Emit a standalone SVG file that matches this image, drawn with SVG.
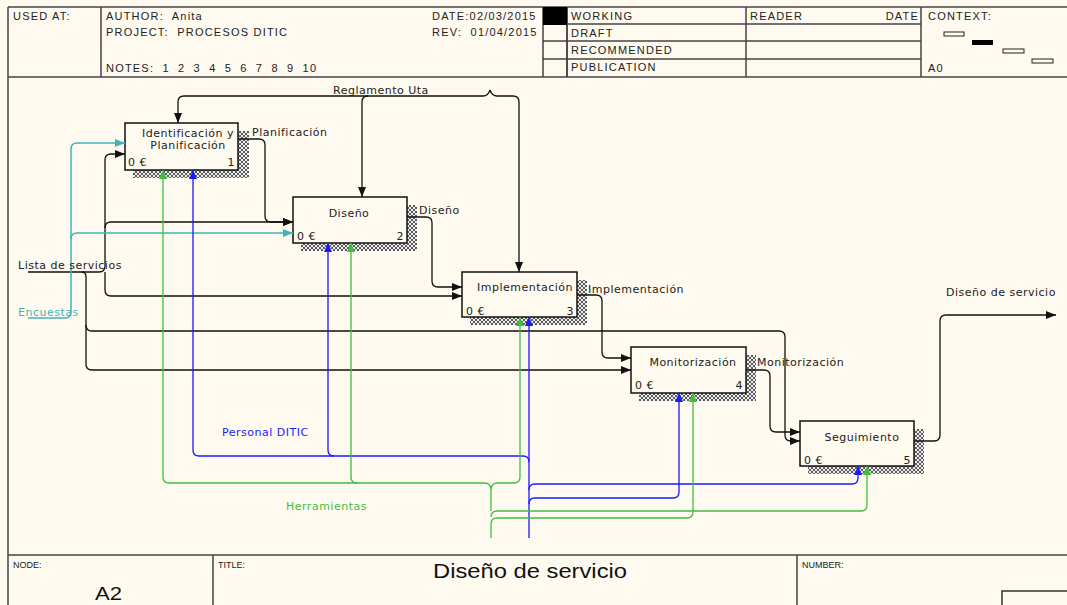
<svg xmlns="http://www.w3.org/2000/svg" width="1067" height="605" viewBox="0 0 1067 605">
<style>
.hd{font-family:"Liberation Sans",Arial,sans-serif;font-size:11px;letter-spacing:1.2px;fill:#222}
.ft{font-family:"Liberation Sans",Arial,sans-serif;font-size:9px;fill:#222}
.bx{font-family:"DejaVu Sans",sans-serif;font-size:11px;letter-spacing:0.5px;fill:#222}
.lb{font-family:"DejaVu Sans",sans-serif;font-size:11px;letter-spacing:0.5px;fill:#222}
.fr{stroke:#444;stroke-width:1.5;fill:none}
.box{fill:#fffaef;stroke:#111;stroke-width:1.5}
.sh{fill:url(#hatch)}
.k{fill:none;stroke:#111;stroke-width:1.3}
.c{fill:none;stroke:#3fb4b6;stroke-width:1.5}
.b{fill:none;stroke:#1a1aff;stroke-width:1.3}
.g{fill:none;stroke:#3fbf3f;stroke-width:1.3}
</style>
<defs>
<pattern id="hatch" width="4" height="4" patternUnits="userSpaceOnUse">
<rect width="4" height="4" fill="#eeeeee"/>
<path d="M0,0L4,4M4,0L0,4" stroke="#4a4a4a" stroke-width="0.9"/>
</pattern>
<marker id="ak" viewBox="0 0 10 8" markerWidth="10" markerHeight="8" refX="10" refY="4" orient="auto" markerUnits="userSpaceOnUse"><path d="M0,0L10,4L0,8z" fill="#111"/></marker>
<marker id="ac" viewBox="0 0 10 8" markerWidth="10" markerHeight="8" refX="10" refY="4" orient="auto" markerUnits="userSpaceOnUse"><path d="M0,0L10,4L0,8z" fill="#3fb4b6"/></marker>
<marker id="ab" viewBox="0 0 9 8" markerWidth="9" markerHeight="8" refX="9" refY="4" orient="auto" markerUnits="userSpaceOnUse"><path d="M0,0L9,4L0,8z" fill="#1a1aff"/></marker>
<marker id="ag" viewBox="0 0 9 8" markerWidth="9" markerHeight="8" refX="9" refY="4" orient="auto" markerUnits="userSpaceOnUse"><path d="M0,0L9,4L0,8z" fill="#3fbf3f"/></marker>
</defs>
<rect width="1067" height="605" fill="#fffaef"/>

<g id="frame">
<path class="fr" d="M8,7V605M8,7H1067M8,77H1067M101,7V77M543,7V77M567,7V77M746,7V77M921,7V77M543,24H921M543,41H921M543,59H921"/>
<text class="hd" x="13" y="20">USED AT:</text>
<text class="hd" x="106" y="20" xml:space="preserve">AUTHOR:  Anita</text>
<text class="hd" x="106" y="36" xml:space="preserve">PROJECT:  PROCESOS DITIC</text>
<text class="hd" x="106" y="72" word-spacing="4">NOTES: 1 2 3 4 5 6 7 8 9 10</text>
<text class="hd" x="432" y="20">DATE:02/03/2015</text>
<text class="hd" x="432" y="36" xml:space="preserve">REV:  01/04/2015</text>
<rect x="544" y="25" width="22" height="51" fill="#fffaef"/>
<path class="fr" d="M543,41H567M543,59H567M567,7V77"/>
<rect x="543" y="7" width="24" height="18" fill="#000"/>
<text class="hd" x="571" y="20">WORKING</text>
<text class="hd" x="571" y="37">DRAFT</text>
<text class="hd" x="571" y="54">RECOMMENDED</text>
<text class="hd" x="571" y="71">PUBLICATION</text>
<text class="hd" x="750" y="20">READER</text>
<text class="hd" x="919" y="20" text-anchor="end">DATE</text>
<text class="hd" x="928" y="20">CONTEXT:</text>
<text class="hd" x="928" y="72">A0</text>
<rect x="944" y="32" width="20" height="4" fill="none" stroke="#222" stroke-width="1"/>
<rect x="972" y="40" width="21" height="5" fill="#000"/>
<rect x="1003" y="49" width="21" height="4" fill="none" stroke="#222" stroke-width="1"/>
<rect x="1032" y="59" width="21" height="4" fill="none" stroke="#222" stroke-width="1"/>
<path class="fr" d="M8,555H1067M213,555V605M797,555V605"/>
<text class="ft" x="13" y="568">NODE:</text>
<text class="ft" x="218" y="568">TITLE:</text>
<text class="ft" x="802" y="568">NUMBER:</text>
<text x="95" y="600" font-family="'Liberation Sans',Arial,sans-serif" font-size="19" textLength="27" lengthAdjust="spacingAndGlyphs" fill="#111">A2</text>
<text x="433" y="578" font-family="'Liberation Sans',Arial,sans-serif" font-size="20" textLength="194" lengthAdjust="spacingAndGlyphs" fill="#111">Diseño de servicio</text>
<rect x="1002" y="591" width="70" height="20" fill="none" stroke="#333" stroke-width="1.5"/>
</g>

<g id="node-1">
<path class="sh" d="M238,131H249V178H133V170H238Z"/>
<rect class="box" x="125" y="123" width="113" height="47"/>
<text class="bx" x="188" y="137" text-anchor="middle">Identificación y</text>
<text class="bx" x="188" y="149" text-anchor="middle">Planificación</text>
<text class="bx" x="128" y="166">0 €</text>
<text class="bx" x="235" y="166" text-anchor="end">1</text>
</g>
<g id="node-2">
<path class="sh" d="M407,205H417V251H301V243H407Z"/>
<rect class="box" x="293" y="197" width="114" height="46"/>
<text class="bx" x="349" y="217" text-anchor="middle">Diseño</text>
<text class="bx" x="297" y="240">0 €</text>
<text class="bx" x="404" y="240" text-anchor="end">2</text>
</g>
<g id="node-3">
<path class="sh" d="M577,280H587V325H470V317H577Z"/>
<rect class="box" x="462" y="272" width="115" height="45"/>
<text class="bx" x="525" y="291" text-anchor="middle">Implementación</text>
<text class="bx" x="466" y="315">0 €</text>
<text class="bx" x="574" y="315" text-anchor="end">3</text>
</g>
<g id="node-4">
<path class="sh" d="M746,355H756V401H639V393H746Z"/>
<rect class="box" x="631" y="347" width="115" height="46"/>
<text class="bx" x="693" y="366" text-anchor="middle">Monitorización</text>
<text class="bx" x="635" y="389">0 €</text>
<text class="bx" x="743" y="389" text-anchor="end">4</text>
</g>
<g id="node-5">
<path class="sh" d="M914,429H924V474H808V466H914Z"/>
<rect class="box" x="800" y="421" width="114" height="45"/>
<text class="bx" x="862" y="441" text-anchor="middle">Seguimiento</text>
<text class="bx" x="804" y="464">0 €</text>
<text class="bx" x="911" y="464" text-anchor="end">5</text>
</g>

<g id="connectors">
<path class="k" marker-end="url(#ak)" d="M490,90Q488,96 483,96H184Q178,96 178,102V123"/>
<path class="k" marker-end="url(#ak)" d="M368,96Q362,96 362,102V197"/>
<path class="k" marker-end="url(#ak)" d="M490,90Q492,96 497,96H513Q519,96 519,102V272"/>
<path class="k" marker-end="url(#ak)" d="M238,139H259Q265,139 265,145V216Q265,222 271,222H293"/>
<path class="k" marker-end="url(#ak)" d="M28,272H99Q105,272 105,266V160Q105,154 111,154H125"/>
<path class="k" marker-end="url(#ak)" d="M105,228Q105,222 111,222H293"/>
<path class="k" marker-end="url(#ak)" d="M105,272V290Q105,296 111,296H462"/>
<path class="k" marker-end="url(#ak)" d="M407,217H426Q432,217 432,223V281Q432,287 438,287H462"/>
<path class="k" marker-end="url(#ak)" d="M82,272Q86,272 86,277V364Q86,370 92,370H631"/>
<path class="k" marker-end="url(#ak)" d="M86,325Q86,331 92,331H779Q785,331 785,337V435Q785,441 791,441H800"/>
<path class="k" marker-end="url(#ak)" d="M577,295H596Q602,295 602,301V352Q602,358 608,358H631"/>
<path class="k" marker-end="url(#ak)" d="M746,370H764Q770,370 770,376V426Q770,432 776,432H800"/>
<path class="k" marker-end="url(#ak)" d="M914,441H934Q940,441 940,435V321Q940,315 946,315H1056"/>
<path class="c" marker-end="url(#ac)" d="M28,318H65Q71,318 71,312V149Q71,143 77,143H125"/>
<path class="c" marker-end="url(#ac)" d="M71,239Q71,233 77,233H293"/>
<path class="b" marker-end="url(#ab)" d="M529,538V317"/>
<path class="b" marker-end="url(#ab)" d="M529,462Q529,456 523,456H199Q193,456 193,450V170"/>
<path class="b" marker-end="url(#ab)" d="M334,456Q328,456 328,450V243"/>
<path class="b" marker-end="url(#ab)" d="M529,490Q529,484 535,484H852Q858,484 858,478V466"/>
<path class="b" marker-end="url(#ab)" d="M529,504Q529,498 535,498H673Q679,498 679,492V393"/>
<path class="g" marker-end="url(#ag)" d="M491,538V524Q491,518 497,518H687Q693,518 693,512V393"/>
<path class="g" marker-end="url(#ag)" d="M491,517Q491,511 497,511H861Q867,511 867,505V466"/>
<path class="g" d="M491,511V489"/>
<path class="g" marker-end="url(#ag)" d="M491,489Q490,483 485,483H169Q163,483 163,477V170"/>
<path class="g" marker-end="url(#ag)" d="M491,489Q492,483 497,483H514Q520,483 520,477V317"/>
<path class="g" marker-end="url(#ag)" d="M357,483Q351,483 351,477V243"/>
<text class="lb" x="333" y="94">Reglamento Uta</text>
<text class="lb" x="252" y="136">Planificación</text>
<text class="lb" x="419" y="214">Diseño</text>
<text class="lb" x="588" y="293">Implementación</text>
<text class="lb" x="757" y="366">Monitorización</text>
<text class="lb" x="946" y="296">Diseño de servicio</text>
<text class="lb" x="18" y="269">Lista de servicios</text>
<text class="lb" x="18" y="316" style="fill:#3fb4b6">Encuestas</text>
<text class="lb" x="222" y="436" style="fill:#1a1aff">Personal DITIC</text>
<text class="lb" x="286" y="510" style="fill:#3fbf3f">Herramientas</text>
</g>
</svg>
